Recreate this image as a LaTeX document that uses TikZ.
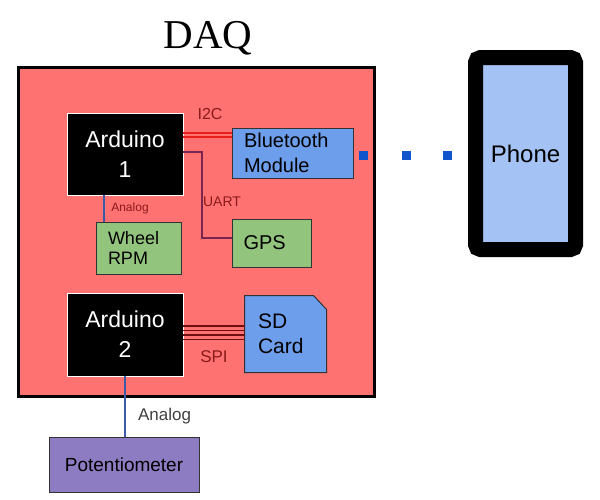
\documentclass[tikz,border=0pt]{standalone}
\usepackage{fontspec}
\setmainfont{Liberation Sans}
\newfontfamily\titlefont{Liberation Serif}
\usepackage{tikz}
\usetikzlibrary{calc}

\definecolor{daqred}{HTML}{FF7272}
\definecolor{btblue}{HTML}{6D9EEB}
\definecolor{partgreen}{HTML}{93C47D}
\definecolor{potpurple}{HTML}{8E7CC3}
\definecolor{phoneblue}{HTML}{A4C2F4}
\definecolor{dotblue}{HTML}{1155CC}
\definecolor{wirelabel}{HTML}{8B1A1A}
\definecolor{i2cwire}{HTML}{E8201C}
\definecolor{uartwire}{HTML}{7A2550}
\definecolor{spiwire}{HTML}{6E0E0E}
\definecolor{analogwire}{HTML}{3B5BA8}

\pgfdeclarelayer{back}
\pgfdeclarelayer{mid}
\pgfsetlayers{back,mid,main}

\tikzset{
  board/.style={draw=white, line width=0.8pt, fill=black, text=white, align=center,
    minimum width=116, minimum height=82, font=\fontsize{23}{30}\selectfont},
  part/.style={draw=black!80, line width=1pt, align=left, inner xsep=12pt,
    font=\fontsize{20}{25}\selectfont},
  buslabel/.style={text=wirelabel, inner sep=0pt},
  bluedot/.style={fill=dotblue, inner sep=0pt, minimum size=9}
}

\begin{document}
\begin{tikzpicture}[x=1pt,y=-1pt]
  \useasboundingbox (0,0) rectangle (600,499);

  % Title and DAQ board
  \node[anchor=base, font=\titlefont\fontsize{41}{41}\selectfont] (title) at (208,48) {DAQ};
  \begin{pgfonlayer}{back}
    \node[draw, line width=3pt, fill=daqred, minimum width=356, minimum height=329] (daq) at (196.5,232) {};
  \end{pgfonlayer}

  % Boards and parts
  \node[board] (ard1) at (125,154) {Arduino\\1};
  \node[board, minimum height=83] (ard2) at (125,334.5) {Arduino\\2};
  \node[part, fill=btblue, text width=97, minimum height=50] (bt) at (292.5,153) {Bluetooth\\Module};
  \node[part, fill=partgreen, text width=57, minimum height=48, inner xsep=11pt] (gps) at (272,243) {GPS};
  \node[part, fill=partgreen, text width=61, minimum height=52, font=\fontsize{18}{20}\selectfont] (wheel) at (138.5,248) {Wheel\\RPM};
  \node[part, draw=none, text width=55, minimum height=76, inner xsep=13pt, font=\fontsize{21}{25}\selectfont] (sd) at (285.5,334) {SD\\Card};
  \node[part, fill=potpurple, align=center, minimum width=150, minimum height=55, font=\fontsize{19}{23}\selectfont] (pot) at (124,464.5) {Potentiometer};

  % SD card outline with clipped corner
  \begin{pgfonlayer}{mid}
    \filldraw[fill=btblue, draw=black!80, line width=1pt]
      (sd.south west) -- (sd.north west) -- ($(sd.north east)+(-13,0)$)
      -- ($(sd.north east)+(0,14)$) -- (sd.south east) -- cycle;
  \end{pgfonlayer}

  % Phone
  \node[draw=black, line width=15pt, rounded corners=5pt, fill=phoneblue,
    minimum width=100, minimum height=192, font=\fontsize{24}{28}\selectfont] (phone) at (525.5,153.5) {Phone};

  % Wireless link
  \foreach \x [count=\i] in {363.5,406,447.5}
    \node[bluedot] (dot\i) at (\x,155.5) {};

  % I2C
  \foreach \y in {133,137}
    \draw[i2cwire, line width=1.3pt] (ard1.east |- 0,\y) -- (bt.west |- 0,\y);
  \node[buslabel, font=\fontsize{16}{16}\selectfont] (i2c) at (210,114) {I2C};

  % UART
  \draw[uartwire, line width=2.4pt] (ard1.east |- 0,152) -- (202,152) |- (gps.west |- 0,238);
  \node[buslabel, font=\fontsize{14}{14}\selectfont] (uart) at (222,202) {UART};

  % Analog to wheel sensor
  \draw[analogwire, line width=2pt] (ard1.south -| 104,0) -- (wheel.north -| 104,0);
  \node[buslabel, font=\fontsize{12}{12}\selectfont] (an1) at (130,208.5) {Analog};

  % SPI
  \foreach \y in {326,330.5,335,339.5}
    \draw[spiwire, line width=1.2pt] (ard2.east |- 0,\y) -- (sd.west |- 0,\y);
  \node[buslabel, font=\fontsize{17}{17}\selectfont] (spi) at (214,357) {SPI};

  % Analog to potentiometer
  \draw[analogwire, line width=2pt] (ard2.south) -- (ard2.south |- pot.north);
  \node[inner sep=0pt, text=black!75, font=\fontsize{17}{17}\selectfont] (an2) at (164.5,416) {Analog};

\end{tikzpicture}
\end{document}
